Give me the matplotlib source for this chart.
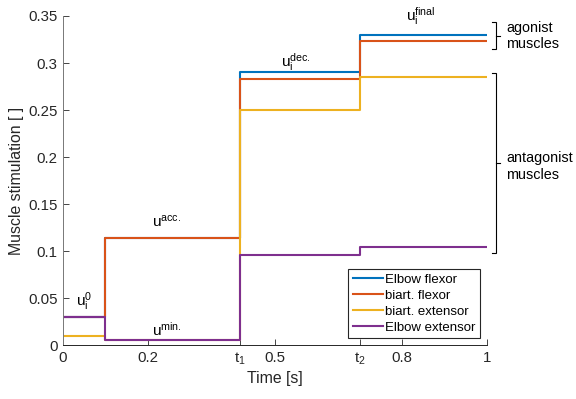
import matplotlib
matplotlib.use("Agg")
import matplotlib.pyplot as plt

plt.rcParams['font.family'] = ['Liberation Sans', 'DejaVu Sans']
plt.rcParams['mathtext.fontset'] = 'custom'
plt.rcParams['mathtext.rm'] = 'Liberation Sans'
plt.rcParams['mathtext.it'] = 'Liberation Sans'
plt.rcParams['mathtext.default'] = 'regular'

# Phase boundaries [s]
t1 = 5 / 12
t2 = 0.7
phase_edges = [0.0, 0.1, t1, t2, 1.0]

# Stimulation level per phase (initial, acceleration, deceleration, final)
elbow_flexor = [0.030, 0.114, 0.290, 0.330]
biart_flexor = [0.030, 0.114, 0.283, 0.323]
biart_extensor = [0.010, 0.005, 0.250, 0.285]
elbow_extensor = [0.030, 0.005, 0.096, 0.104]

series_names = ["Elbow flexor", "biart. flexor", "biart. extensor", "Elbow extensor"]
series_values = [elbow_flexor, biart_flexor, biart_extensor, elbow_extensor]
colors = ["#0072BD", "#D95319", "#EDB120", "#7E2F8E"]

xtick_pos = [0, 0.2, t1, 0.5, t2, 0.8, 1]
xtick_labels = ["0", "0.2", "t$_1$", "0.5", "t$_2$", "0.8", "1"]
ytick_pos = [0, 0.05, 0.1, 0.15, 0.2, 0.25, 0.3, 0.35]
ytick_labels = ["0", "0.05", "0.1", "0.15", "0.2", "0.25", "0.3", "0.35"]

fig = plt.figure(figsize=(5.76, 3.99), dpi=100)
ax = fig.add_axes([0.1094, 0.1353, 0.7361, 0.8246])

for name, vals, c in zip(series_names, series_values, colors):
    ax.step(phase_edges, vals + [vals[-1]], where="post", color=c, lw=1.5, label=name)

ax.set_xlim(0, 1)
ax.set_ylim(0, 0.35)
ax.set_xticks(xtick_pos)
ax.set_xticklabels(xtick_labels)
ax.set_yticks(ytick_pos)
ax.set_yticklabels(ytick_labels)
ax.tick_params(direction="in", length=4, width=0.6, labelsize=10.8, colors="#262626", pad=4)
for side in ("top", "right"):
    ax.spines[side].set_visible(False)
ax.spines["left"].set_color("#777777")
ax.spines["bottom"].set_color("#262626")
for side in ("left", "bottom"):
    ax.spines[side].set_linewidth(0.7)

ax.set_xlabel("Time [s]", fontsize=11.4, color="#262626", labelpad=3)
ax.set_ylabel("Muscle stimulation [ ]", fontsize=11.4, color="#262626", labelpad=3)

# Phase annotations
fs = 11
ax.text(0.031, 0.042, "u$_i^0$", fontsize=fs, ha="left", va="baseline")
ax.text(0.210, 0.1262, "u$^{acc.}$", fontsize=fs, ha="left", va="baseline")
ax.text(0.210, 0.0102, "u$^{min.}$", fontsize=fs, ha="left", va="baseline")
ax.text(0.515, 0.2962, "u$_i^{dec.}$", fontsize=fs, ha="left", va="baseline")
ax.text(0.809, 0.3451, "u$_i^{final}$", fontsize=fs, ha="left", va="baseline")

# Brackets grouping the muscles
def bracket(y_top, y_bot, y_mid):
    xs = 1.012
    xv = 1.021
    xm = 1.031
    ax.plot([xs, xv, xv, xs], [y_top, y_top, y_bot, y_bot], color="k", lw=0.8,
            clip_on=False, solid_joinstyle="miter")
    ax.plot([xv, xm], [y_mid, y_mid], color="k", lw=0.8, clip_on=False)

bracket(0.3436, 0.3149, 0.329)
bracket(0.2894, 0.0979, 0.1936)
ax.text(1.046, 0.3287, "agonist\nmuscles", fontsize=10.4, ha="left", va="center",
        linespacing=1.25, clip_on=False)
ax.text(1.046, 0.19, "antagonist\nmuscles", fontsize=10.4, ha="left", va="center",
        linespacing=1.25, clip_on=False)

leg = ax.legend(loc="lower right", bbox_to_anchor=(0.99, 0.012), fontsize=9.5,
                handlelength=2.3, handletextpad=0.15, labelspacing=0.28,
                borderpad=0.35, fancybox=False, framealpha=1, borderaxespad=0.2)
leg.get_frame().set_edgecolor("#262626")
leg.get_frame().set_linewidth(0.8)

fig.savefig("out.png", dpi=100)
